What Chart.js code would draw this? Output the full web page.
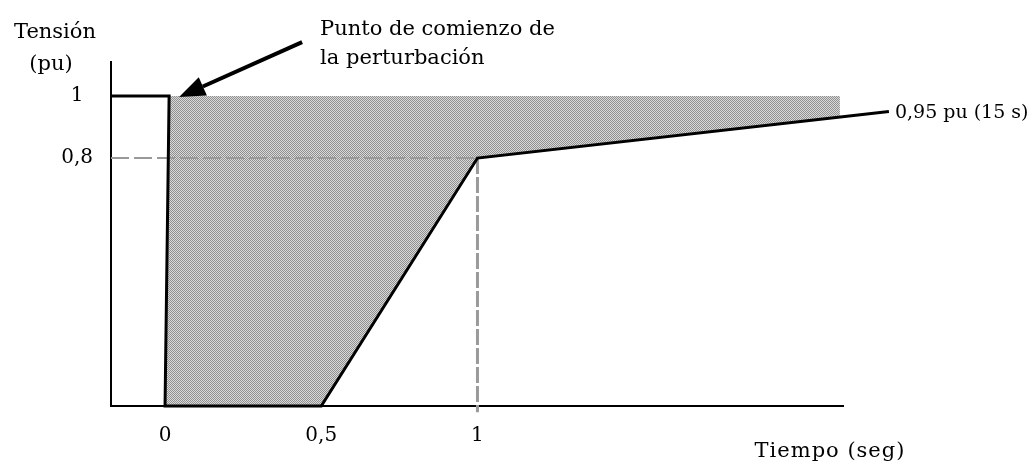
<!DOCTYPE html>
<html>
<head>
<meta charset="utf-8">
<script src="https://cdn.jsdelivr.net/npm/chart.js@4.4.1/dist/chart.umd.min.js"></script>
<style>
  html, body { margin: 0; padding: 0; background: #fff; }
</style>
</head>
<body>
<canvas id="chart" width="1029" height="463"></canvas>
<script>
// Tensión (pu) frente al tiempo. El eje de tiempo es esquemático: el último punto es 15 s
const voltageTime = [-0.173, 0.013, 0, 0.5, 1, 2.317];
const voltageValue = [1, 1, 0, 0, 0.8, 0.95];

// zona sombreada (entre la curva y 1 pu)
const shadeTime = [0.013, 2.16, 2.16, 1, 0.5, 0];
const shadeValue = [1, 1, 0.93, 0.8, 0, 0];

// líneas de referencia discontinuas
const refHTime = [-0.173, 1];
const refHValue = [0.8, 0.8];
const refVTime = [1, 1];
const refVValue = [0.8, -0.02];

const xTicks = [0, 0.5, 1];
const xTickLabels = ['0', '0,5', '1'];
const yTicks = [0.8, 1];
const yTickLabels = ['0,8', '1'];

const FONT = '"DejaVu Serif", serif';

const toPoints = (xs, ys) => xs.map((v, i) => ({ x: v, y: ys[i] }));

// trama punteada gris del sombreado
const makePattern = () => {
    const c = document.createElement('canvas');
    c.width = 2;
    c.height = 2;
    const g = c.getContext('2d');
    g.fillStyle = '#dadada';
    g.fillRect(0, 0, 2, 2);
    g.fillStyle = '#8f8f8f';
    g.fillRect(0, 0, 1, 1);
    g.fillRect(1, 1, 1, 1);
    return g.createPattern(c, 'repeat');
};

const annotations = {
    id: 'annotations',
    afterDatasetsDraw(chart) {
        const { ctx, chartArea, scales: { x, y } } = chart;
        ctx.save();
        ctx.fillStyle = '#000';
        ctx.strokeStyle = '#000';
        ctx.font = '21px ' + FONT;
        ctx.textBaseline = 'middle';

        // título del eje vertical
        ctx.textAlign = 'center';
        ctx.fillText('Tensión', chartArea.left - 56, 33);
        ctx.fillText('(pu)', chartArea.left - 60, 65);

        // flecha al punto de comienzo
        const tipX = x.getPixelForValue(0.045);
        const tipY = y.getPixelForValue(1) + 1;
        const tailX = tipX + 123;
        const tailY = tipY - 55;
        const len = Math.hypot(tailX - tipX, tailY - tipY);
        const dx = (tipX - tailX) / len;
        const dy = (tipY - tailY) / len;
        const baseX = tipX - dx * 26;
        const baseY = tipY - dy * 26;
        ctx.lineWidth = 4;
        ctx.beginPath();
        ctx.moveTo(tailX, tailY);
        ctx.lineTo(baseX, baseY);
        ctx.stroke();
        ctx.beginPath();
        ctx.moveTo(tipX, tipY);
        ctx.lineTo(baseX - dy * 10, baseY + dx * 10);
        ctx.lineTo(baseX + dy * 10, baseY - dx * 10);
        ctx.closePath();
        ctx.fill();

        ctx.textAlign = 'left';
        ctx.fillText('Punto de comienzo de', tailX + 18, tailY - 13);
        ctx.fillText('la perturbación', tailX + 18, tailY + 16);

        // valor final
        const last = voltageTime.length - 1;
        const endX = x.getPixelForValue(voltageTime[last]);
        const endY = y.getPixelForValue(voltageValue[last]);
        ctx.font = '19px ' + FONT;
        ctx.fillText('0,95 pu (15 s)', endX + 6, endY + 1);

        // título del eje horizontal
        ctx.font = '21px ' + FONT;
        ctx.letterSpacing = '1px';
        ctx.textAlign = 'center';
        ctx.fillText('Tiempo (seg)', chartArea.right - 13, 452);
        ctx.restore();
    }
};

new Chart(document.getElementById('chart'), {
    type: 'line',
    data: {
        datasets: [
            {
                data: toPoints(voltageTime, voltageValue),
                borderColor: '#000',
                borderWidth: 3,
                pointRadius: 0,
                fill: false,
                tension: 0,
                clip: false,
                order: 0
            },
            {
                data: toPoints(refHTime, refHValue),
                borderColor: '#999',
                borderWidth: 2,
                borderDash: [18, 5],
                pointRadius: 0,
                fill: false,
                order: 1
            },
            {
                data: toPoints(refVTime, refVValue),
                borderColor: '#9a9a9a',
                borderWidth: 3,
                borderDash: [16, 3],
                pointRadius: 0,
                fill: false,
                clip: false,
                order: 1
            },
            {
                data: toPoints(shadeTime, shadeValue),
                borderWidth: 0,
                borderColor: 'rgba(0,0,0,0)',
                backgroundColor: makePattern(),
                pointRadius: 0,
                fill: 'shape',
                order: 2
            }
        ]
    },
    options: {
        responsive: false,
        animation: false,
        devicePixelRatio: 1,
        layout: { padding: { top: 62, right: 186, bottom: 0, left: 0 } },
        plugins: {
            legend: { display: false },
            tooltip: { enabled: false }
        },
        scales: {
            x: {
                type: 'linear',
                min: -0.173,
                max: 2.17,
                afterFit: (scale) => { scale.height = 57; },
                afterBuildTicks: (scale) => { scale.ticks = xTicks.map(v => ({ value: v })); },
                grid: { display: true, drawOnChartArea: false, drawTicks: false },
                border: { display: true, color: '#000', width: 2 },
                ticks: {
                    color: '#000',
                    padding: 18,
                    font: { family: FONT, size: 20 },
                    callback: (v) => xTickLabels[xTicks.indexOf(v)]
                }
            },
            y: {
                type: 'linear',
                min: 0,
                max: 1.11,
                afterFit: (scale) => { scale.width = 111; },
                afterBuildTicks: (scale) => { scale.ticks = yTicks.map(v => ({ value: v })); },
                grid: { display: true, drawOnChartArea: false, drawTicks: false },
                border: { display: true, color: '#000', width: 2 },
                ticks: {
                    color: '#000',
                    padding: 18,
                    crossAlign: 'center',
                    font: { family: FONT, size: 20 },
                    callback: (v) => yTickLabels[yTicks.indexOf(v)]
                }
            }
        }
    },
    plugins: [annotations]
});
</script>
</body>
</html>
